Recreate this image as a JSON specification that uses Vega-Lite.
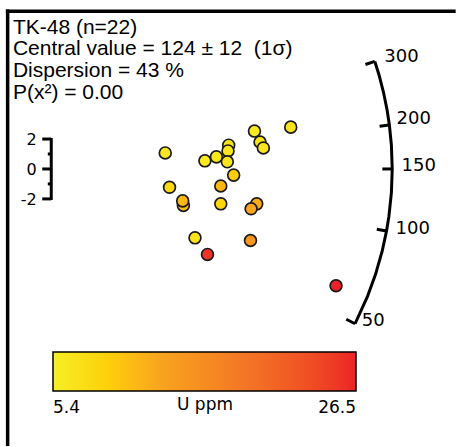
{
  "$schema": "https://vega.github.io/schema/vega-lite/v6.json",
  "width": 457,
  "height": 447,
  "autosize": {"type": "fit", "contains": "padding"},
  "padding": 0,
  "background": "white",
  "config": {"view": {"stroke": null}, "font": "Liberation Sans"},
  "datasets": {
    "frame": [
      {"x": -2.914, "y": 10.54, "x2": 26.9, "y2": 10.54},
      {"x": -2.914, "y": 10.54, "x2": -2.914, "y2": -18.4}
    ],
    "bracket": [
      {"x": 0, "y": 2.07, "x2": 0, "y2": -2.07},
      {"x": 0, "y": 2, "x2": -0.6, "y2": 2},
      {"x": 0, "y": 0, "x2": -0.6, "y2": 0},
      {"x": 0, "y": -2, "x2": -0.6, "y2": -2},
      {"x": 0, "y": 1, "x2": -0.23, "y2": 1},
      {"x": 0, "y": -1, "x2": -0.23, "y2": -1}
    ],
    "bracketLabels": [
      {"x": -0.97, "y": 2, "label": "2"},
      {"x": -0.97, "y": 0, "label": "0"},
      {"x": -0.97, "y": -2, "label": "-2"}
    ],
    "arc": [
      {"i": 1, "x": 21.615, "y": 7.19},
      {"i": 2, "x": 21.898, "y": 6.279},
      {"i": 3, "x": 22.196, "y": 5.124},
      {"i": 4, "x": 22.434, "y": 3.956},
      {"i": 5, "x": 22.59, "y": 2.934},
      {"i": 6, "x": 22.724, "y": 1.589},
      {"i": 7, "x": 22.78, "y": 0},
      {"i": 8, "x": 22.724, "y": -1.589},
      {"i": 9, "x": 22.558, "y": -3.17},
      {"i": 10, "x": 22.398, "y": -4.151},
      {"i": 11, "x": 22.103, "y": -5.511},
      {"i": 12, "x": 21.665, "y": -7.039},
      {"i": 13, "x": 21.121, "y": -8.534},
      {"i": 14, "x": 20.297, "y": -10.342}
    ],
    "arcTicks": [
      {"x": 21.615, "y": 7.19, "x2": 20.989, "y2": 6.982},
      {"x": 22.59, "y": 2.934, "x2": 21.936, "y2": 2.849},
      {"x": 22.78, "y": 0, "x2": 22.12, "y2": 0},
      {"x": 22.398, "y": -4.151, "x2": 21.749, "y2": -4.031},
      {"x": 20.297, "y": -10.342, "x2": 19.709, "y2": -10.042}
    ],
    "arcLabels": [
      {"x": 22.25, "y": 7.45, "label": "300"},
      {"x": 23.07, "y": 3.34, "label": "200"},
      {"x": 23.4, "y": 0.17, "label": "150"},
      {"x": 23.0, "y": -4.01, "label": "100"},
      {"x": 20.75, "y": -10.17, "label": "50"}
    ],
    "header": [
      {"x": -2.563, "y": 9.04, "text": "TK-48 (n=22)"},
      {"x": -2.563, "y": 7.583, "text": "Central value = 124 ± 12\u00a0 (1σ)"},
      {"x": -2.563, "y": 6.126, "text": "Dispersion = 43 %"},
      {"x": -2.563, "y": 4.669, "text": "P(x²) = 0.00"}
    ],
    "points": [
      {"x": 11.854, "y": 1.589, "u": 6.8},
      {"x": 7.616, "y": 1.073, "u": 6.4},
      {"x": 13.576, "y": 2.53, "u": 6.2},
      {"x": 16.0, "y": 2.795, "u": 6.6},
      {"x": 13.947, "y": 1.801, "u": 6.9},
      {"x": 14.172, "y": 1.404, "u": 6.5},
      {"x": 11.808, "y": 1.205, "u": 6.7},
      {"x": 11.033, "y": 0.808, "u": 6.3},
      {"x": 10.265, "y": 0.543, "u": 6.1},
      {"x": 11.762, "y": 0.477, "u": 6.6},
      {"x": 12.185, "y": -0.411, "u": 9.4},
      {"x": 11.325, "y": -1.139, "u": 11.4},
      {"x": 7.901, "y": -1.225, "u": 8.3},
      {"x": 8.828, "y": -2.437, "u": 10.8},
      {"x": 8.781, "y": -2.132, "u": 11.2},
      {"x": 11.325, "y": -2.331, "u": 8.6},
      {"x": 13.728, "y": -2.331, "u": 12.3},
      {"x": 13.351, "y": -2.662, "u": 12.8},
      {"x": 9.603, "y": -4.603, "u": 7.0},
      {"x": 13.311, "y": -4.781, "u": 14.6},
      {"x": 10.437, "y": -5.709, "u": 25.4},
      {"x": 19.026, "y": -7.801, "u": 26.5}
    ]
  },
  "layer": [
    {
      "data": {"name": "frame"},
      "mark": {"type": "rule", "stroke": "black", "strokeWidth": 3.5, "strokeCap": "square"},
      "encoding": {
        "x": {"field": "x", "type": "quantitative", "axis": null, "scale": {"domain": [-3.424, 26.84], "nice": false, "zero": false}},
        "y": {"field": "y", "type": "quantitative", "axis": null, "scale": {"domain": [-18.31, 11.29], "nice": false, "zero": false}},
        "x2": {"field": "x2"},
        "y2": {"field": "y2"}
      }
    },
    {
      "data": {"name": "bracket"},
      "mark": {"type": "rule", "stroke": "black", "strokeWidth": 3, "strokeCap": "butt"},
      "encoding": {
        "x": {"field": "x", "type": "quantitative", "axis": null},
        "y": {"field": "y", "type": "quantitative", "axis": null},
        "x2": {"field": "x2"},
        "y2": {"field": "y2"}
      }
    },
    {
      "data": {"name": "bracketLabels"},
      "mark": {"type": "text", "align": "right", "baseline": "middle", "fontSize": 16, "dy": 1, "color": "black", "font": "DejaVu Sans"},
      "encoding": {
        "x": {"field": "x", "type": "quantitative", "axis": null},
        "y": {"field": "y", "type": "quantitative", "axis": null},
        "text": {"field": "label"}
      }
    },
    {
      "data": {"name": "arc"},
      "mark": {"type": "line", "stroke": "black", "strokeWidth": 3},
      "encoding": {
        "x": {"field": "x", "type": "quantitative", "axis": null},
        "y": {"field": "y", "type": "quantitative", "axis": null},
        "order": {"field": "i"}
      }
    },
    {
      "data": {"name": "arcTicks"},
      "mark": {"type": "rule", "stroke": "black", "strokeWidth": 3, "strokeCap": "butt"},
      "encoding": {
        "x": {"field": "x", "type": "quantitative", "axis": null},
        "y": {"field": "y", "type": "quantitative", "axis": null},
        "x2": {"field": "x2"},
        "y2": {"field": "y2"}
      }
    },
    {
      "data": {"name": "arcLabels"},
      "mark": {"type": "text", "align": "left", "baseline": "middle", "fontSize": 18, "color": "black", "font": "DejaVu Sans"},
      "encoding": {
        "x": {"field": "x", "type": "quantitative", "axis": null},
        "y": {"field": "y", "type": "quantitative", "axis": null},
        "text": {"field": "label"}
      }
    },
    {
      "data": {"name": "header"},
      "mark": {"type": "text", "align": "left", "baseline": "alphabetic", "fontSize": 21, "color": "black", "font": "Liberation Sans"},
      "encoding": {
        "x": {"field": "x", "type": "quantitative", "axis": null},
        "y": {"field": "y", "type": "quantitative", "axis": null},
        "text": {"field": "text"}
      }
    },
    {
      "data": {"name": "points"},
      "mark": {"type": "circle", "size": 140, "stroke": "#1a1a1a", "strokeWidth": 1.7, "opacity": 1},
      "encoding": {
        "x": {"field": "x", "type": "quantitative", "axis": null},
        "y": {"field": "y", "type": "quantitative", "axis": null},
        "color": {
          "field": "u",
          "type": "quantitative",
          "scale": {
            "domain": [5.4, 9, 13, 19, 26.5],
            "range": ["#f6ef27", "#fdd20b", "#f8a31f", "#f37426", "#ec2227"]
          },
          "legend": {
            "orient": "none",
            "legendX": 53,
            "legendY": 352,
            "direction": "horizontal",
            "gradientLength": 303,
            "gradientThickness": 39,
            "gradientStrokeColor": "black",
            "gradientStrokeWidth": 1.5,
            "values": [5.4, 26.5],
            "format": ".1f",
            "labelFontSize": 17,
            "labelColor": "black",
            "labelOffset": 9,
            "labelFont": "DejaVu Sans",
            "title": "U ppm",
            "titleOrient": "bottom",
            "titleAnchor": "middle",
            "titleFontSize": 17,
            "titleFontWeight": "normal",
            "titleColor": "black",
            "titleFont": "DejaVu Sans",
            "titlePadding": -19
          }
        }
      }
    }
  ]
}
